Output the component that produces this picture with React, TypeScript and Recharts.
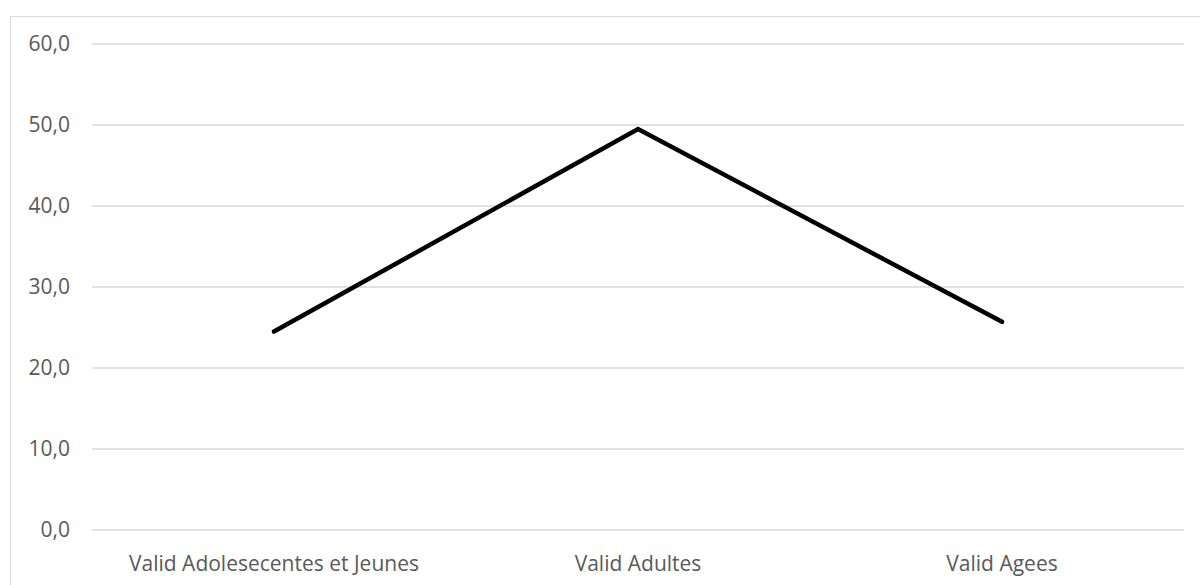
import React from "react";
import { LineChart, Line, XAxis, YAxis, CartesianGrid } from "recharts";

// Age groups shown along the horizontal axis
const categories = [
  "Valid Adolesecentes et Jeunes",
  "Valid Adultes",
  "Valid Agees",
];

// Percentage per age group
const values = [24.5, 49.5, 25.7];

// Value axis ticks
const yTicks = [0, 10, 20, 30, 40, 50, 60];

const data = categories.map((name, i) => ({ name, value: values[i] }));

const FONT = "'Open Sans', sans-serif";
const TEXT_COLOR = "#595959";
const GRID_COLOR = "#d9d9d9";

const formatTick = (v: number) => v.toFixed(1).replace(".", ",");

export default function App() {
  return (
    <div
      style={{
        position: "absolute",
        left: 0,
        top: 0,
        width: 1200,
        height: 585,
        overflow: "hidden",
        background: "#ffffff",
      }}
    >
      <div
        style={{
          position: "absolute",
          left: 10,
          top: 16,
          width: 1300,
          height: 700,
          border: `1px solid ${GRID_COLOR}`,
          boxSizing: "border-box",
        }}
      />
      <div style={{ position: "absolute", left: 0, top: 0 }}>
        <LineChart
          width={1200}
          height={585}
          data={data}
          margin={{ top: 44, right: 16, bottom: 0, left: 0 }}
        >
          <CartesianGrid
            vertical={false}
            horizontal={true}
            stroke={GRID_COLOR}
            strokeWidth={1.5}
          />
          <XAxis
            dataKey="name"
            type="category"
            height={55}
            padding={{ left: 182, right: 182 }}
            axisLine={false}
            tickLine={false}
            tickSize={0}
            tickMargin={26}
            interval={0}
            tick={{ fill: TEXT_COLOR, fontSize: 21, fontFamily: FONT }}
          />
          <YAxis
            type="number"
            domain={[0, 60]}
            ticks={yTicks}
            width={92}
            axisLine={false}
            tickLine={false}
            tickSize={0}
            tickMargin={22}
            tickFormatter={formatTick}
            tick={{ fill: TEXT_COLOR, fontSize: 21, fontFamily: FONT }}
          />
          <Line
            type="linear"
            dataKey="value"
            stroke="#000000"
            strokeWidth={4.5}
            strokeLinecap="round"
            strokeLinejoin="miter"
            dot={false}
            activeDot={false}
            isAnimationActive={false}
          />
        </LineChart>
      </div>
    </div>
  );
}
